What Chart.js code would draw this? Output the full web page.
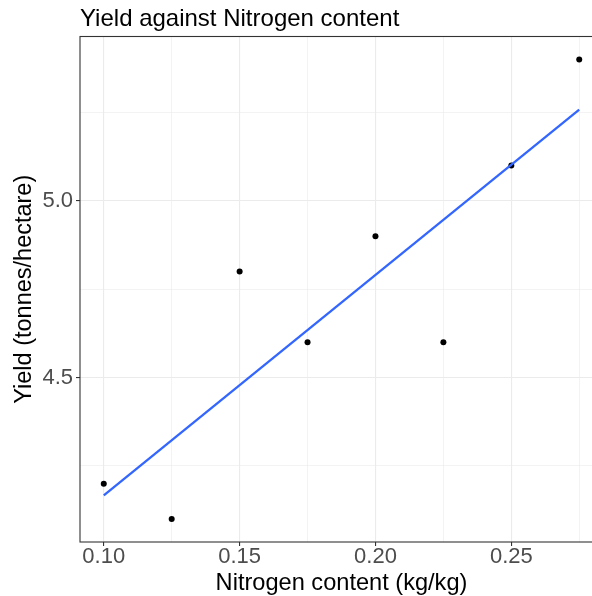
<!DOCTYPE html>
<html>
<head>
<meta charset="utf-8">
<script src="https://cdn.jsdelivr.net/npm/chart.js@4/dist/chart.umd.min.js"></script>
<style>
  html, body { margin: 0; padding: 0; overflow: hidden; background: #fff; }
  canvas { display: block; }
</style>
</head>
<body>
<canvas id="yield" width="592" height="596" style="width:592px;height:596px"></canvas>
<script>
// data
let nitrogen = [0.100, 0.125, 0.150, 0.175, 0.200, 0.225, 0.250, 0.275];
let yieldValues = [4.2, 4.1, 4.8, 4.6, 4.9, 4.6, 5.1, 5.4];

let xMajorTicks = [0.10, 0.15, 0.20, 0.25];
let xMinorTicks = [0.125, 0.175, 0.225, 0.275];
let yMajorTicks = [4.5, 5.0];
let yMinorTicks = [4.25, 4.75, 5.25];

// least squares fit (geom_smooth method = "lm")
let n = nitrogen.length;
let mx = nitrogen.reduce((a, b) => a + b, 0) / n;
let my = yieldValues.reduce((a, b) => a + b, 0) / n;
let sxy = 0, sxx = 0;
for (let i = 0; i < n; i++) {
    sxy += (nitrogen[i] - mx) * (yieldValues[i] - my);
    sxx += (nitrogen[i] - mx) * (nitrogen[i] - mx);
}
let slope = sxy / sxx;
let intercept = my - slope * mx;
let xFirst = Math.min(...nitrogen), xLast = Math.max(...nitrogen);
let fitLine = [
    {x: xFirst, y: intercept + slope * xFirst},
    {x: xLast, y: intercept + slope * xLast}
];

// ggplot style 5% expansion
function expand(lo, hi) {
    let d = (hi - lo) * 0.05;
    return [lo - d, hi + d];
}
let xRange = expand(xFirst, xLast);
let yRange = expand(Math.min(...yieldValues), Math.max(...yieldValues));

// the original panel runs about 11px past the right edge of the picture,
// so the visible x axis stops a little short of the expanded range
let panelLeft = 80, fullRight = 603, canvasRight = 592;
let xVisibleMax = xRange[0] + (xRange[1] - xRange[0]) * (canvasRight - panelLeft) / (fullRight - panelLeft);

function isMajor(list, v) {
    return list.some(t => Math.abs(t - v) < 1e-9);
}

let font = "'Liberation Sans', Arial, Helvetica, sans-serif";

let panelPlugin = {
    id: 'panel',
    afterDraw(chart) {
        let ctx = chart.ctx, a = chart.chartArea, xs = chart.scales.x;
        let right = xs.getPixelForValue(xRange[1]);
        ctx.save();
        ctx.strokeStyle = '#333333';
        ctx.lineWidth = 1.1;
        ctx.strokeRect(a.left, a.top, right - a.left, a.bottom - a.top);

        ctx.fillStyle = '#000000';
        ctx.textAlign = 'left';
        ctx.textBaseline = 'alphabetic';
        ctx.font = '24px ' + font;
        ctx.fillText('Yield against Nitrogen content', a.left, 26);

        ctx.textAlign = 'center';
        ctx.font = '23.6px ' + font;
        let mid = xs.getPixelForValue((xRange[0] + xRange[1]) / 2);
        ctx.fillText('Nitrogen content (kg/kg)', mid, 590);
        ctx.restore();
    }
};

let ctx = document.getElementById('yield').getContext('2d');

let yieldChart = new Chart(ctx, {
    type: 'scatter',
    data: {
        datasets: [{
            type: 'line',
            data: fitLine,
            borderColor: '#3366FF',
            borderWidth: 2.3,
            pointRadius: 0,
            fill: false
        }, {
            data: nitrogen.map((x, i) => ({x: x, y: yieldValues[i]})),
            backgroundColor: '#000000',
            borderWidth: 0,
            pointRadius: 3
        }]
    },
    options: {
        responsive: false,
        animation: false,
        layout: {
            autoPadding: false,
            padding: { top: 36.5, left: 0, right: 0, bottom: 0 }
        },
        plugins: {
            legend: { display: false },
            tooltip: { enabled: false }
        },
        scales: {
            x: {
                type: 'linear',
                min: xRange[0],
                max: xVisibleMax,
                afterBuildTicks: function(scale) {
                    scale.ticks = xMajorTicks.concat(xMinorTicks).sort((a, b) => a - b).map(v => ({value: v}));
                },
                afterFit: function(scale) { scale.height = 54; },
                border: { display: false },
                grid: {
                    color: '#EBEBEB',
                    lineWidth: c => isMajor(xMajorTicks, c.tick.value) ? 1.1 : 0.6,
                    tickLength: 4,
                    tickColor: c => isMajor(xMajorTicks, c.tick.value) ? '#333333' : 'rgba(0,0,0,0)',
                    tickWidth: 1.1
                },
                ticks: {
                    padding: 0,
                    color: '#4D4D4D',
                    font: { family: font, size: 22, lineHeight: 1.0 },
                    maxRotation: 0,
                    autoSkip: false,
                    callback: function(value) {
                        return isMajor(xMajorTicks, value) ? value.toFixed(2) : '';
                    }
                },
                title: { display: false }
            },
            y: {
                type: 'linear',
                min: yRange[0],
                max: yRange[1],
                afterBuildTicks: function(scale) {
                    scale.ticks = yMajorTicks.concat(yMinorTicks).sort((a, b) => a - b).map(v => ({value: v}));
                },
                afterFit: function(scale) { scale.width = 80; },
                border: { display: false },
                grid: {
                    color: '#EBEBEB',
                    lineWidth: c => isMajor(yMajorTicks, c.tick.value) ? 1.1 : 0.6,
                    tickLength: 4,
                    tickColor: c => isMajor(yMajorTicks, c.tick.value) ? '#333333' : 'rgba(0,0,0,0)',
                    tickWidth: 1.1
                },
                ticks: {
                    padding: 3,
                    color: '#4D4D4D',
                    font: { family: font, size: 22 },
                    autoSkip: false,
                    callback: function(value) {
                        return isMajor(yMajorTicks, value) ? value.toFixed(1) : '';
                    }
                },
                title: {
                    display: true,
                    text: 'Yield (tonnes/hectare)',
                    color: '#000000',
                    font: { family: font, size: 23.5 },
                    padding: { top: 10, bottom: 0 }
                }
            }
        }
    },
    plugins: [panelPlugin]
});
</script>
</body>
</html>
